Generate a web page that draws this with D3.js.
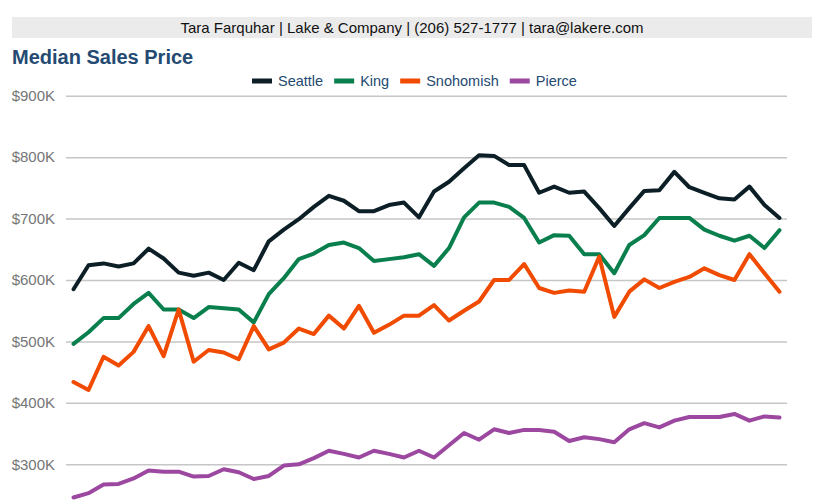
<!DOCTYPE html>
<html>
<head>
<meta charset="utf-8">
<script src="https://cdn.jsdelivr.net/npm/d3@7"></script>
<style>
  body { margin: 0; background: #fff; }
  text { font-family: "Liberation Sans", Arial, sans-serif; }
</style>
</head>
<body>
<div id="chart"></div>
<script>
// monthly points, 48 of them (no x labels shown on the chart)
var months = d3.range(48);
var seriesNames = ["Seattle", "King", "Snohomish", "Pierce"];
var seriesColors = ["#0c1f26", "#0a7f4e", "#f04b00", "#9c48a0"];
var yTicks = [300, 400, 500, 600, 700, 800, 900];

// values in $K
var seattle = [585, 624, 627, 622, 627, 651, 635, 612, 607, 612, 600, 628, 616, 663, 682, 699, 719,
  737, 729, 712, 712, 722, 726, 702, 744, 760, 782, 803, 802, 787, 787, 742, 752, 742, 744, 717,
  688, 717, 745, 746, 776, 751, 742, 733, 731, 752, 722, 701];
var king = [496, 515, 538, 538, 561, 579, 552, 552, 538, 556, 554, 552, 531, 577, 603, 634, 643,
  657, 661, 652, 631, 634, 637, 642, 623, 652, 702, 726, 726, 719, 701, 661, 673, 672, 642, 642,
  611, 657, 673, 701, 701, 701, 682, 672, 664, 672, 652, 681];
var snohomish = [434, 421, 475, 461, 483, 525, 476, 552, 467, 486, 482, 471, 525, 487, 498, 521, 512,
  542, 521, 558, 514, 527, 542, 542, 559, 534, 550, 565, 600, 600, 626, 587, 579, 583, 581, 638,
  540, 581, 601, 587, 597, 605, 619, 608, 600, 642, 611, 581];
var pierce = [246, 253, 267, 268, 277, 290, 288, 288, 280, 281, 292, 287, 276, 281, 298, 300, 310,
  322, 317, 311, 322, 317, 311, 322, 311, 331, 351, 340, 357, 351, 356, 356, 353, 338, 344, 341,
  336, 357, 367, 360, 371, 377, 377, 377, 382, 371, 378, 376];

var data = [seattle, king, snohomish, pierce];

var W = 829, H = 503;
var svg = d3.select("#chart").append("svg").attr("width", W).attr("height", H);

// header band
svg.append("rect").attr("x", 12).attr("y", 17).attr("width", 800).attr("height", 21).attr("fill", "#ebebeb");
svg.append("text").attr("x", 412).attr("y", 33).attr("text-anchor", "middle")
  .attr("font-size", 15).attr("fill", "#111")
  .text("Tara Farquhar | Lake & Company | (206) 527-1777 | tara@lakere.com");

svg.append("text").attr("x", 12).attr("y", 64).attr("font-size", 20).attr("font-weight", "bold")
  .attr("fill", "#244a72").text("Median Sales Price");

var x = d3.scalePoint().domain(months).range([66, 787]).padding(0.5);
var y = d3.scaleLinear().domain([300, 900]).range([464.3, 95.7]);

// grid + y labels
var yAxis = svg.append("g").attr("transform", "translate(66,0)")
  .call(d3.axisLeft(y).tickValues(yTicks).tickSize(-721).tickPadding(11)
    .tickFormat(function(d) { return "$" + d + "K"; }));
yAxis.select(".domain").remove();
yAxis.selectAll(".tick line").attr("stroke", "#c6c6c6").attr("stroke-width", 1.5);
yAxis.selectAll(".tick text").attr("fill", "#757575").attr("font-size", 15)
  .attr("font-family", "Liberation Sans, Arial, sans-serif");

// lines
var line = d3.line().x(function(d, i) { return x(months[i]); }).y(function(d) { return y(d); });
svg.append("g").selectAll("path").data(data).enter().append("path")
  .attr("d", line)
  .attr("fill", "none")
  .attr("stroke", function(d, i) { return seriesColors[i]; })
  .attr("stroke-width", 4)
  .attr("stroke-linejoin", "round")
  .attr("stroke-linecap", "round");

// legend
var legend = svg.append("g");
var lx = 252;
seriesNames.forEach(function(name, i) {
  legend.append("rect").attr("x", lx).attr("y", 78.5).attr("width", 20).attr("height", 5).attr("fill", seriesColors[i]);
  var t = legend.append("text").attr("x", lx + 26).attr("y", 86).attr("font-size", 14.5)
    .attr("fill", "#244a72").text(name);
  lx += 26 + t.node().getComputedTextLength() + 11;
});
</script>
</body>
</html>
